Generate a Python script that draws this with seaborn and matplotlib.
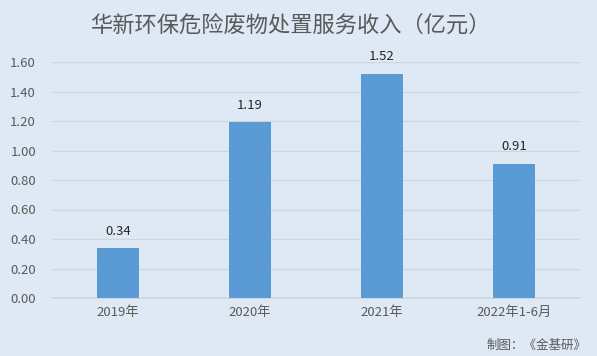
import matplotlib
matplotlib.use("Agg")
import matplotlib.pyplot as plt
import seaborn as sns
import pandas as pd

categories = ["2019年", "2020年", "2021年", "2022年1-6月"]
revenue = [0.34, 1.19, 1.52, 0.91]
y_ticks = [0.0, 0.2, 0.4, 0.6, 0.8, 1.0, 1.2, 1.4, 1.6]

BG = "#dee9f5"
BAR = "#5b9bd5"
TEXT = "#595959"

sns.set_theme(style="white")
plt.rcParams["font.family"] = ["Noto Sans CJK SC", "DejaVu Sans"]

df = pd.DataFrame({"year": categories, "value": revenue})

fig = plt.figure(figsize=(5.97, 3.56), dpi=100, facecolor=BG)
ax = fig.add_axes([52 / 597, 58 / 356, 528 / 597, 236 / 356])
ax.set_facecolor(BG)

sns.barplot(data=df, x="year", y="value", color=BAR, width=0.32,
            saturation=1, linewidth=0, ax=ax, zorder=3)

ax.set_ylim(0, 1.6)
ax.set_yticks(y_ticks)
ax.set_yticklabels([f"{t:.2f}" for t in y_ticks], fontsize=9.5, color=TEXT)
ax.tick_params(axis="x", labelsize=9.5, colors=TEXT, length=0, pad=6)
ax.tick_params(axis="y", length=0, pad=11.5)
ax.set_xlabel("")
ax.set_ylabel("")
ax.grid(axis="y", color="#d4d4d4", linewidth=0.9, zorder=0)
for s in ["top", "right", "left"]:
    ax.spines[s].set_visible(False)
ax.spines["bottom"].set_color("#d4d4d4")

for i, v in enumerate(revenue):
    ax.text(i, v + 0.07, f"{v:.2f}", ha="center", va="bottom",
            fontsize=9.5, color="#262626")

fig.text(290 / 597, 1 - 25 / 356, "华新环保危险废物处置服务收入（亿元）",
         ha="center", va="center", fontsize=16, color=TEXT)
fig.text(587 / 597, 1 - 345 / 356, "制图：《金基研》", ha="right",
         va="center", fontsize=9, color=TEXT)

fig.savefig("out.png", dpi=100, facecolor=BG)
